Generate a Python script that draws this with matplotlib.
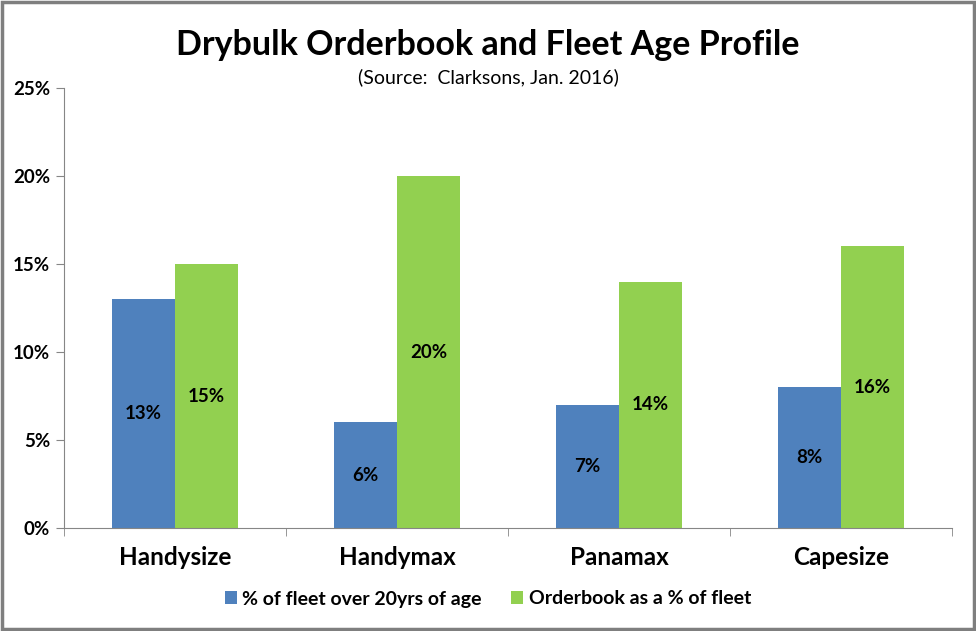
import numpy as np
import matplotlib.pyplot as plt
from matplotlib.patches import Rectangle
from matplotlib.ticker import FuncFormatter

plt.rcParams['font.family'] = ['Lato', 'DejaVu Sans']

######## data ########
categories = ['Handysize', 'Handymax', 'Panamax', 'Capesize']
fleet_old = [13, 6, 7, 8]
orderbook = [15, 20, 14, 16]
series_names = ['% of fleet over 20yrs of age', 'Orderbook as a % of fleet']

blue = '#4F81BD'
green = '#92D050'
axc = '#868686'

fig = plt.figure(figsize=(9.76, 6.31), dpi=100)
ax = fig.add_axes([64/976, 1-528/631, 888/976, 440/631])

x = np.arange(len(categories))
w = 0.286
b1 = ax.bar(x - w/2, fleet_old, w, color=blue, label=series_names[0])
b2 = ax.bar(x + w/2, orderbook, w, color=green, label=series_names[1])

for bars, vals in ((b1, fleet_old), (b2, orderbook)):
    for r, v in zip(bars, vals):
        ax.text(r.get_x() + r.get_width()/2, v/2, '%d%%' % v, ha='center', va='center',
                fontsize=13.5, fontweight='bold')

ax.set_xlim(-0.5, len(categories) - 0.5)
ax.set_ylim(0, 25)
ax.set_yticks(np.arange(0, 26, 5))
ax.yaxis.set_major_formatter(FuncFormatter(lambda v, p: '%d%%' % v))
ax.set_xticks(x)
ax.set_xticklabels(categories, fontsize=17.5, fontweight='bold')
ax.set_xticks(np.arange(-0.5, len(categories)), minor=True)
ax.tick_params(axis='x', which='major', length=0, pad=13)
ax.tick_params(axis='x', which='minor', length=6, color=axc)
ax.tick_params(axis='y', length=6, color=axc, pad=4)
for lab in ax.get_yticklabels():
    lab.set_fontsize(13.5)
    lab.set_fontweight('bold')
for s in ['top', 'right']:
    ax.spines[s].set_visible(False)
for s in ['left', 'bottom']:
    ax.spines[s].set_color(axc)

fig.text(0.5, 1-45/631, 'Drybulk Orderbook and Fleet Age Profile', ha='center', va='center',
         fontsize=24.5, fontweight='bold')
fig.text(0.5, 1-77/631, '(Source:  Clarksons, Jan. 2016)', ha='center', va='center', fontsize=14)

fig.legend(loc='center', bbox_to_anchor=(0.5, 1-599/631), ncol=2, frameon=False,
           prop={'size': 14, 'weight': 'bold'}, handlelength=0.6, handleheight=0.6,
           handletextpad=0.3, columnspacing=1.5)

fig.patches.append(Rectangle((0.002, 0.003), 0.996, 0.994, transform=fig.transFigure,
                             fill=False, edgecolor='#7f7f7f', linewidth=2.5))

fig.savefig('out.png', dpi=100)
